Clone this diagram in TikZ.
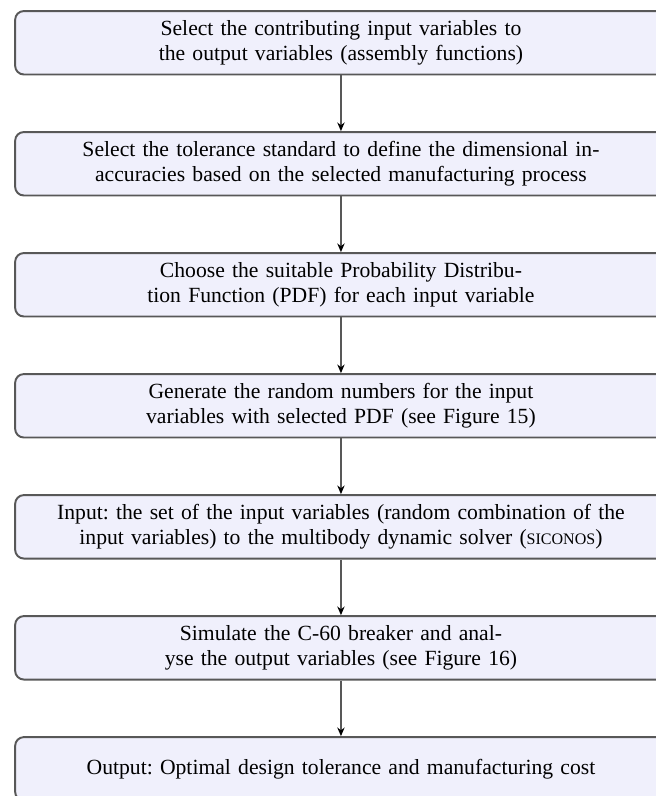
\documentclass[tikz,border=0pt]{standalone}
\usepackage{fontspec}
\setmainfont{Liberation Serif}
\usetikzlibrary{arrows.meta}
\definecolor{boxfill}{RGB}{240,240,252}
\definecolor{boxline}{RGB}{88,88,88}
\newcommand{\fakesc}[1]{{\fontsize{7.4}{8}\selectfont #1}}
\frenchspacing
\begin{document}
\begin{tikzpicture}[x=1pt,y=1pt,
  stepbox/.style={draw=boxline, line width=0.9pt, fill=boxfill, rounded corners=4pt,
    minimum width=301pt, minimum height=29.3pt, text width=295pt, align=center,
    inner sep=0pt, font=\fontsize{10}{11.2}\selectfont\frenchspacing},
  conn/.style={draw=boxline, line width=0.9pt, -{Stealth[length=4pt,width=3.4pt,black]}}]
\useasboundingbox (0,0) rectangle (303,-367.7);
\clip (0,0) rectangle (303,-367.7);
\node[stepbox] (b1) at (157.5,-19.75) {Select the contributing input variables to\\the output variables (assembly functions)};
\node[stepbox] (b2) at (157.5,-75.65) {Select the tolerance standard to define the dimensional in-\\accuracies based on the selected manufacturing process};
\node[stepbox] (b3) at (157.5,-131.55) {Choose the suitable Probability Distribu-\\tion Function (PDF) for each input variable};
\node[stepbox] (b4) at (157.5,-187.45) {Generate the random numbers for the input\\variables with selected PDF (see Figure 15)};
\node[stepbox] (b5) at (157.5,-243.35) {Input: the set of the input variables (random combination of the\\input variables) to the multibody dynamic solver (\fakesc{SICONOS})};
\node[stepbox] (b6) at (157.5,-299.25) {Simulate the C-60 breaker and anal-\\yse the output variables (see Figure 16)};
\node[stepbox] (b7) at (157.5,-355.15) {Output: Optimal design tolerance and manufacturing cost};
\draw[conn] (b1.south) -- (b2.north);
\draw[conn] (b2.south) -- (b3.north);
\draw[conn] (b3.south) -- (b4.north);
\draw[conn] (b4.south) -- (b5.north);
\draw[conn] (b5.south) -- (b6.north);
\draw[conn] (b6.south) -- (b7.north);
\end{tikzpicture}
\end{document}
